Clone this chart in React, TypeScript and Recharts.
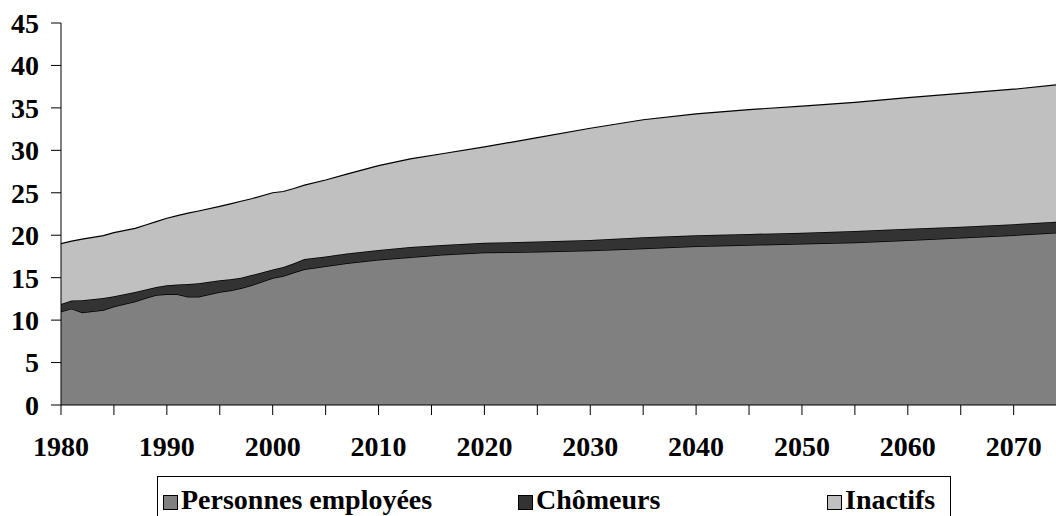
import React from 'react';
import { AreaChart, Area, XAxis, YAxis } from 'recharts';

const years = [1980, 1981, 1982, 1984, 1985, 1987, 1988, 1989, 1990, 1991, 1992, 1993, 1995, 1996, 1997, 1998, 2000, 2001, 2002, 2003, 2005, 2007, 2010, 2013, 2016, 2020, 2025, 2030, 2035, 2040, 2045, 2050, 2055, 2060, 2065, 2070, 2074];
const employed = [11.0, 11.35, 10.9, 11.2, 11.6, 12.2, 12.6, 12.95, 13.05, 13.05, 12.75, 12.75, 13.3, 13.5, 13.75, 14.1, 14.95, 15.2, 15.6, 16.0, 16.35, 16.7, 17.1, 17.4, 17.7, 17.95, 18.05, 18.2, 18.45, 18.7, 18.85, 19.0, 19.15, 19.4, 19.7, 20.0, 20.3];
const unemployed = [0.9, 0.95, 1.45, 1.4, 1.2, 1.1, 1.0, 0.95, 1.05, 1.15, 1.5, 1.6, 1.4, 1.3, 1.25, 1.2, 1.0, 1.05, 1.1, 1.2, 1.15, 1.15, 1.15, 1.2, 1.15, 1.15, 1.2, 1.25, 1.3, 1.3, 1.3, 1.3, 1.35, 1.35, 1.3, 1.3, 1.3];
const inactive = [7.1, 7.0, 7.2, 7.35, 7.5, 7.5, 7.6, 7.7, 7.9, 8.1, 8.35, 8.5, 8.7, 8.9, 9.0, 9.0, 9.05, 8.9, 8.8, 8.7, 9.0, 9.35, 9.95, 10.4, 10.75, 11.3, 12.25, 13.15, 13.85, 14.3, 14.65, 14.9, 15.15, 15.45, 15.7, 15.9, 16.1];

const xTicks = [1980, 1985, 1990, 1995, 2000, 2005, 2010, 2015, 2020, 2025, 2030, 2035, 2040, 2045, 2050, 2055, 2060, 2065, 2070];
const yTicks = [0, 5, 10, 15, 20, 25, 30, 35, 40, 45];

const legendItems = [
  { label: 'Personnes employées', color: '#808080', left: 5 },
  { label: 'Chômeurs', color: '#333333', left: 360 },
  { label: 'Inactifs', color: '#c0c0c0', left: 669 },
];

const data = years.map((year, i) => ({
  year,
  employed: employed[i],
  unemployed: unemployed[i],
  inactive: inactive[i],
}));

const serif = '"Liberation Serif", "Times New Roman", serif';
const font = { fontFamily: serif, fontWeight: 'bold' as const, fontSize: 28, fill: '#000' };

// only decades get a label, the 5-year marks are bare ticks
const XTick = (props: any) => {
  const { x, y, payload } = props;
  if (payload.value % 10 !== 0) return null;
  return (
    <text x={x} y={y} dy="0.71em" textAnchor="middle" {...font}>
      {payload.value}
    </text>
  );
};

export default function App() {
  return (
    <div style={{ position: 'absolute', left: 0, top: 0, width: 1056, height: 516, overflow: 'hidden', background: '#fff' }}>
      <AreaChart width={1056} height={480} data={data} margin={{ top: 23, right: 0, bottom: 0, left: 0 }}>
        <XAxis
          dataKey="year"
          type="number"
          domain={[1980, 2074]}
          ticks={xTicks}
          interval={0}
          tick={<XTick />}
          tickSize={10}
          tickMargin={21}
          height={75}
          stroke="#000"
          allowDataOverflow
        />
        <YAxis
          domain={[0, 45]}
          ticks={yTicks}
          interval={0}
          tick={font}
          tickSize={10}
          tickMargin={12}
          width={61}
          stroke="#000"
        />
        <Area type="linear" dataKey="employed" stackId="1" fill="#808080" fillOpacity={1} stroke="#000" strokeWidth={1.5} isAnimationActive={false} />
        <Area type="linear" dataKey="unemployed" stackId="1" fill="#333333" fillOpacity={1} stroke="#000" strokeWidth={1.5} isAnimationActive={false} />
        <Area type="linear" dataKey="inactive" stackId="1" fill="#c0c0c0" fillOpacity={1} stroke="#000" strokeWidth={1.2} isAnimationActive={false} />
      </AreaChart>
      {/* legend box, bottom edge is cut off by the frame like in the original */}
      <div style={{ position: 'absolute', left: 157, top: 476, width: 794, height: 60, border: '1px solid #000', boxSizing: 'border-box' }}>
        {legendItems.map((it) => (
          <div key={it.label} style={{ position: 'absolute', left: it.left, top: 8, display: 'flex', alignItems: 'center', whiteSpace: 'nowrap' }}>
            <span style={{ display: 'inline-block', width: 15, height: 15, background: it.color, border: '1px solid #000', boxSizing: 'border-box', marginRight: 3, marginTop: 4 }} />
            <span style={{ fontFamily: serif, fontWeight: 'bold', fontSize: 28, lineHeight: '30px' }}>{it.label}</span>
          </div>
        ))}
      </div>
    </div>
  );
}
